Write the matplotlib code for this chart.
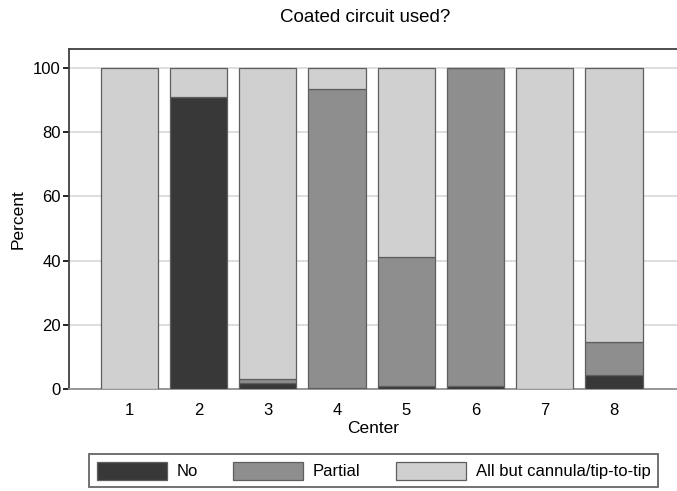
import matplotlib
matplotlib.use("Agg")
import matplotlib.pyplot as plt
import numpy as np

plt.rcParams["font.family"] = ["Liberation Sans", "DejaVu Sans"]

centers = ["1", "2", "3", "4", "5", "6", "7", "8"]
no_pct = [0, 91, 2, 0.3, 1, 1, 0, 4.5]
partial_pct = [0, 0, 1, 93.2, 40, 99, 0, 10]
allbut_pct = [100, 9, 97, 6.5, 59, 0, 100, 85.5]
series_names = ["No", "Partial", "All but cannula/tip-to-tip"]
yticks = [0, 20, 40, 60, 80, 100]

colors = ["#383838", "#8e8e8e", "#d0d0d0"]
edge = "#5e5e5e"

fig = plt.figure(figsize=(6.77, 4.91), dpi=100)
ax = fig.add_axes([69 / 677, 102 / 491, 1 - 69 / 677, 340 / 491])

x = np.arange(1, len(centers) + 1)
bottom = np.zeros(len(centers))
handles = []
for vals, col, name in zip([no_pct, partial_pct, allbut_pct], colors, series_names):
    vals = np.array(vals, dtype=float)
    b = ax.bar(x, vals, width=0.83, bottom=bottom, color=col, edgecolor=edge,
               linewidth=0.9, label=name, zorder=3)
    handles.append(b)
    bottom += vals

ax.set_xlim(0.13, 8.91)
ax.set_ylim(0, 105.9)
ax.set_yticks(yticks)
ax.set_xticks(x)
ax.set_xticklabels(centers)
ax.tick_params(axis="x", length=0, pad=10, labelsize=12)
ax.tick_params(axis="y", length=4, width=1.2, direction="out", pad=2, labelsize=12)
ax.yaxis.grid(True, color="#d8d8d8", linewidth=1.2, zorder=0)
ax.set_axisbelow(True)
for s in ["left", "top", "bottom"]:
    ax.spines[s].set_color("#404040")
    ax.spines[s].set_linewidth(1.3)
ax.spines["right"].set_visible(False)
ax.spines["bottom"].set_color("#909090")

ax.set_xlabel("Center", fontsize=12.5, labelpad=2)
ax.set_ylabel("Percent", fontsize=12.5, labelpad=5)
fig.text(365 / 677, 1 - 17 / 491, "Coated circuit used?", ha="center", va="center", fontsize=13.5)

leg = fig.legend(handles=handles, labels=series_names, loc="upper left",
                 bbox_to_anchor=(89 / 677, 1 - 454 / 491), ncol=3, fontsize=12,
                 frameon=True, fancybox=False, handlelength=4.2, handleheight=1.3,
                 handletextpad=0.6, columnspacing=2.1, borderpad=0.45, borderaxespad=0)
leg.get_frame().set_edgecolor("#404040")
leg.get_frame().set_linewidth(1.3)

fig.savefig("out.png", dpi=100)
